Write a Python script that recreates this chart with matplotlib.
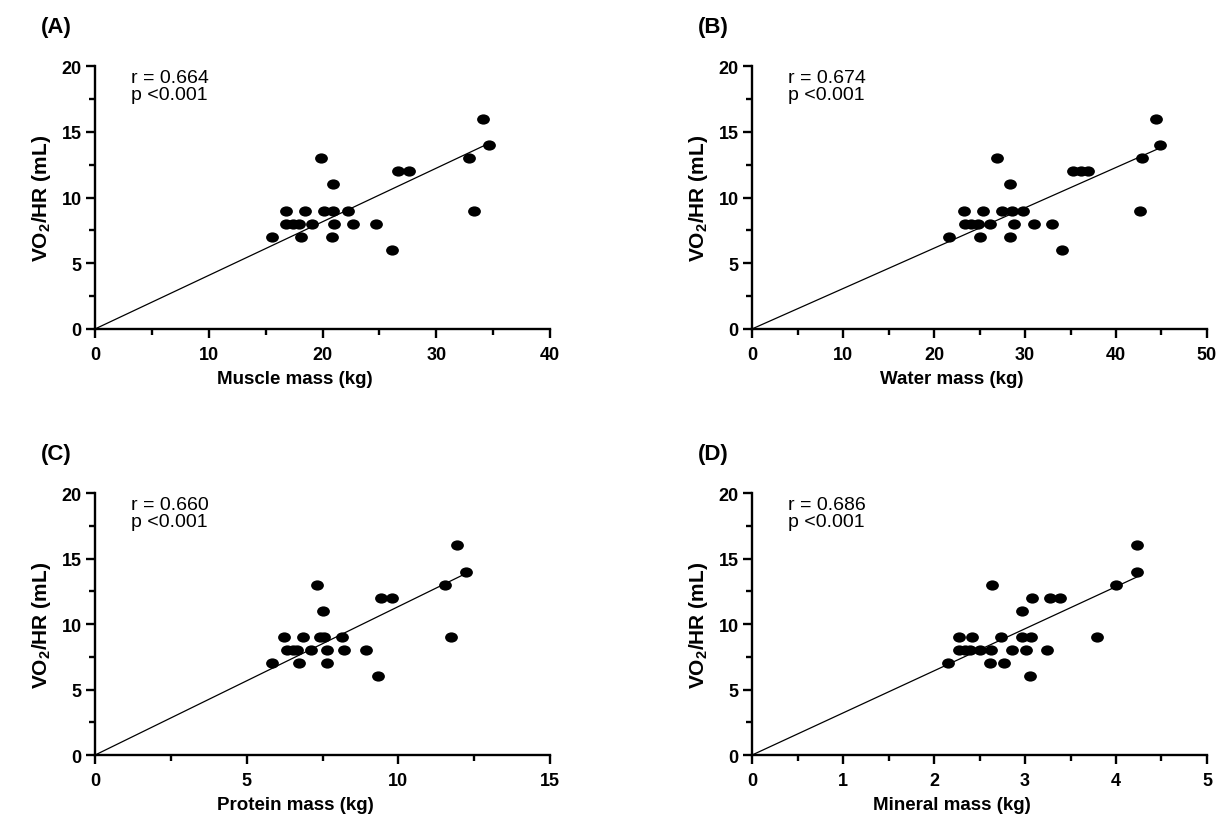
import numpy as np
import matplotlib
matplotlib.use("Agg")
import matplotlib.pyplot as plt
import matplotlib.path as mpath
from matplotlib.ticker import MultipleLocator

plt.rcParams["font.family"] = ["Liberation Sans", "DejaVu Sans"]
plt.rcParams["mathtext.fontset"] = "custom"
plt.rcParams["mathtext.rm"] = "Liberation Sans"
plt.rcParams["mathtext.bf"] = "Liberation Sans:bold"

# VO2/HR values (mL)
muscle_x = [34.1, 34.6, 32.9, 19.85, 26.6, 27.6, 20.9, 33.3, 16.8, 18.5, 20.1, 20.9, 22.2,
            16.8, 17.4, 17.9, 19.1, 21.0, 22.7, 24.7, 15.6, 18.1, 20.8, 26.1]
muscle_y = [16, 14, 13, 13, 12, 12, 11, 9, 9, 9, 9, 9, 9, 8, 8, 8, 8, 8, 8, 8, 7, 7, 7, 6]

water_x = [44.4, 44.8, 42.9, 26.9, 35.3, 36.2, 36.9, 28.4, 42.6, 23.3, 25.4, 27.5, 28.6, 29.8,
           23.4, 24.1, 24.8, 26.1, 28.8, 31.0, 33.0, 21.7, 25.1, 28.4, 34.1]
water_y = [16, 14, 13, 13, 12, 12, 12, 11, 9, 9, 9, 9, 9, 9, 8, 8, 8, 8, 8, 8, 8, 7, 7, 7, 6]

protein_x = [11.92, 12.23, 11.54, 7.33, 9.42, 9.78, 7.53, 11.73, 6.23, 6.84, 7.42, 7.55, 8.13,
             6.32, 6.52, 6.67, 7.12, 7.64, 8.22, 8.93, 5.82, 6.73, 7.64, 9.34]
protein_y = [16, 14, 13, 13, 12, 12, 11, 9, 9, 9, 9, 9, 9, 8, 8, 8, 8, 8, 8, 8, 7, 7, 7, 6]

mineral_x = [4.23, 4.23, 4.0, 2.64, 3.08, 3.28, 3.39, 2.97, 3.79, 2.28, 2.42, 2.74, 2.97, 3.07,
             2.28, 2.34, 2.40, 2.50, 2.63, 2.86, 3.01, 3.24, 2.15, 2.61, 2.77, 3.06]
mineral_y = [16, 14, 13, 13, 12, 12, 12, 11, 9, 9, 9, 9, 9, 9, 8, 8, 8, 8, 8, 8, 8, 8, 7, 7, 7, 6]

panel_tags = ["(A)", "(B)", "(C)", "(D)"]
x_labels = ["Muscle mass (kg)", "Water mass (kg)", "Protein mass (kg)", "Mineral mass (kg)"]
r_values = ["0.664", "0.674", "0.660", "0.686"]
x_max = [40, 50, 15, 5]
x_major = [10, 10, 5, 1]

datasets = [(muscle_x, muscle_y), (water_x, water_y), (protein_x, protein_y), (mineral_x, mineral_y)]

# slightly flattened dot, like the original export
circle = mpath.Path.unit_circle()
dot = mpath.Path(circle.vertices * [1.25, 1.0], circle.codes)

fig = plt.figure(figsize=(12.25, 8.29), dpi=100)
positions = [
    [0.0776, 0.602, 0.3714, 0.317],
    [0.6139, 0.602, 0.3714, 0.317],
    [0.0776, 0.088, 0.3714, 0.316],
    [0.6139, 0.088, 0.3714, 0.316],
]

for i, (xs, ys) in enumerate(datasets):
    ax = fig.add_axes(positions[i])
    x = np.array(xs)
    y = np.array(ys)

    ax.scatter(x, y, s=85, marker=dot, color="black", linewidths=0, clip_on=False, zorder=3)

    # regression line through the origin
    slope = np.sum(x * y) / np.sum(x * x)
    xl = np.array([0, x.max()])
    ax.plot(xl, slope * xl, color="black", lw=0.9, clip_on=False)

    ax.set_xlim(0, x_max[i])
    ax.set_ylim(0, 20)
    ax.xaxis.set_major_locator(MultipleLocator(x_major[i]))
    ax.xaxis.set_minor_locator(MultipleLocator(x_major[i] / 2))
    ax.yaxis.set_major_locator(MultipleLocator(5))
    ax.yaxis.set_minor_locator(MultipleLocator(2.5))

    for side in ["top", "right"]:
        ax.spines[side].set_visible(False)
    for side in ["left", "bottom"]:
        ax.spines[side].set_linewidth(1.7)

    ax.tick_params(which="major", length=6.5, width=1.7, labelsize=13, pad=3)
    ax.tick_params(axis="x", which="major", pad=6)
    ax.tick_params(which="minor", length=4, width=1.7)
    for lab in ax.get_xticklabels() + ax.get_yticklabels():
        lab.set_fontweight("bold")

    ax.set_xlabel(x_labels[i], fontsize=13.5, fontweight="bold", va="center")
    ax.xaxis.set_label_coords(0.44, -0.19)
    ax.set_ylabel(r"VO$_{\mathbf{2}}$/HR (mL)", fontsize=15, fontweight="bold", labelpad=6)

    ax.text(0.08, 0.99, "r = " + r_values[i] + "\np <0.001", transform=ax.transAxes,
            fontsize=14, va="top", ha="left", linespacing=1.05)
    ax.text(-0.12, 1.152, panel_tags[i], transform=ax.transAxes,
            fontsize=16, fontweight="bold", va="center", ha="left")

fig.savefig("out.png", dpi=100)
